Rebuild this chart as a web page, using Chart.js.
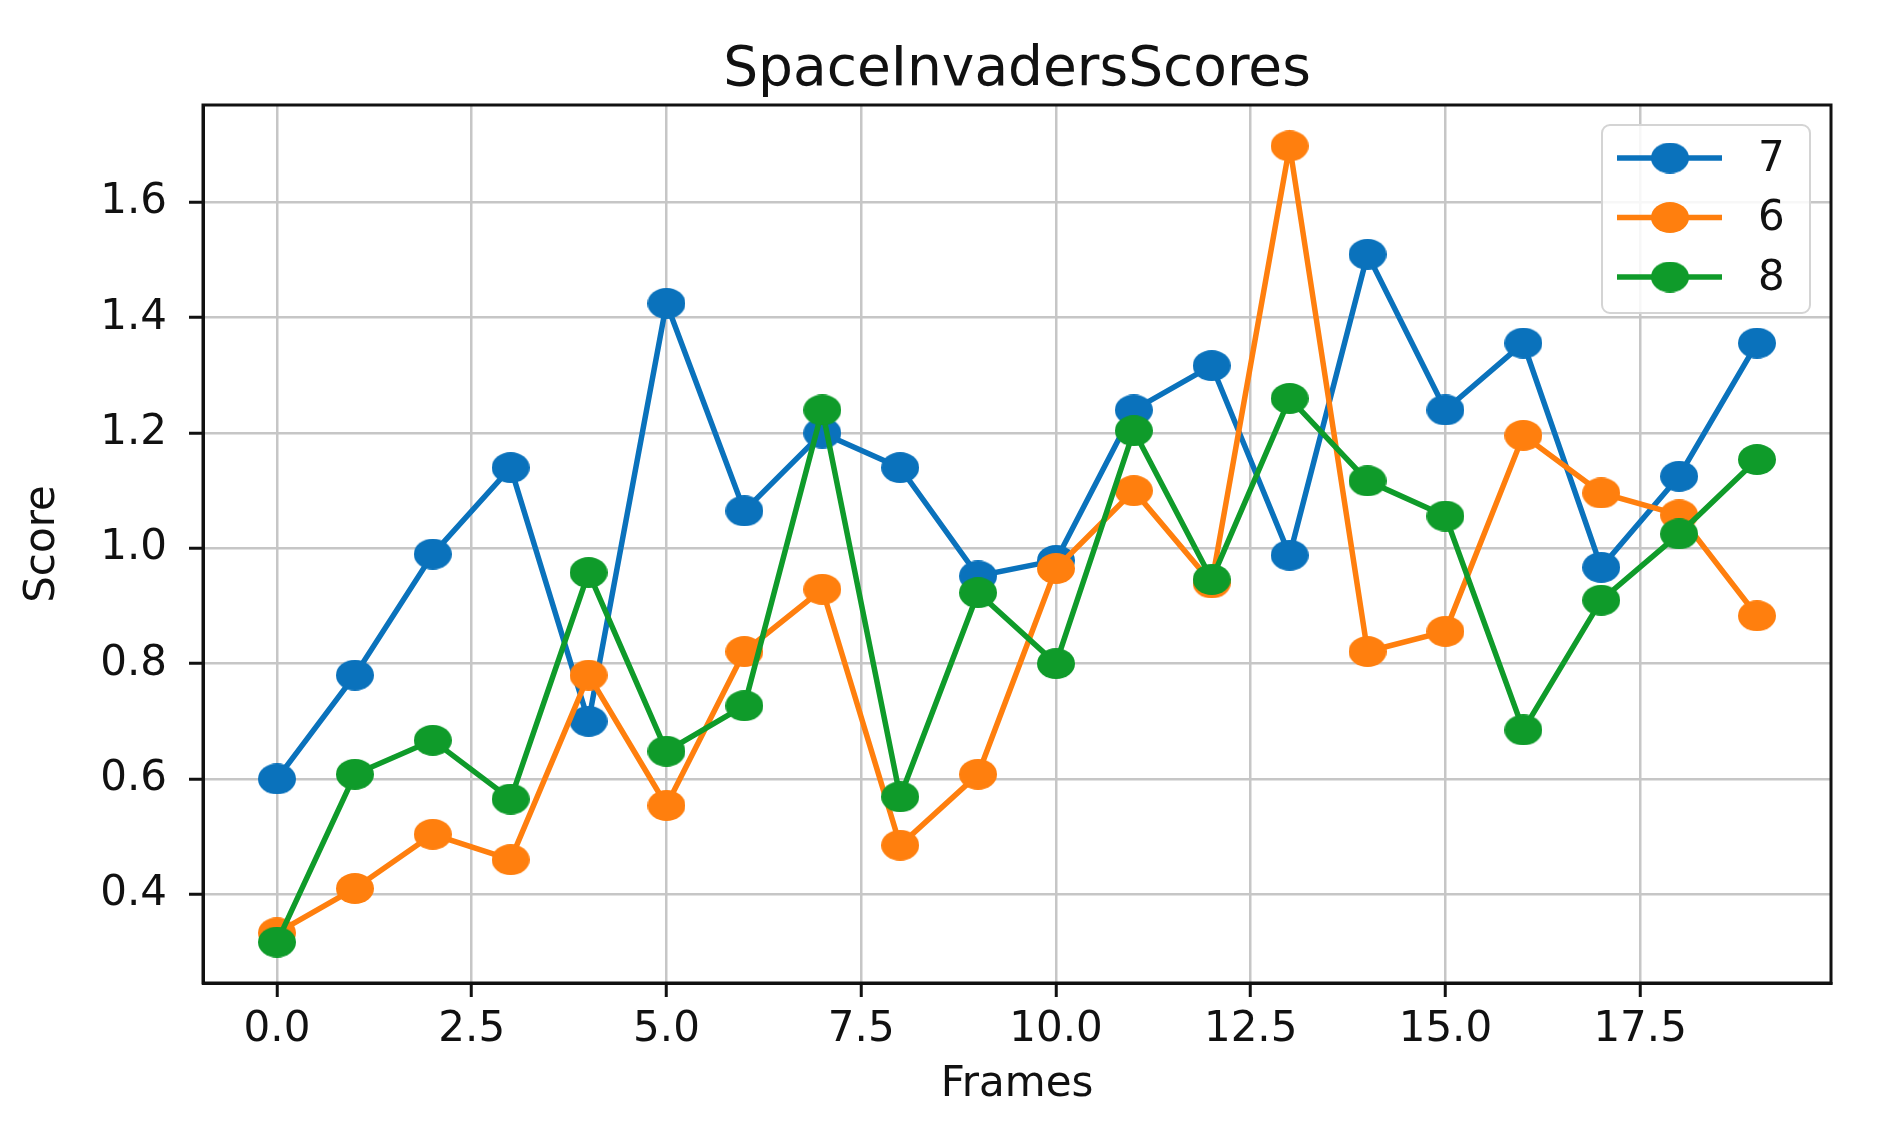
<!DOCTYPE html>
<html>
<head>
<meta charset="utf-8">
<title>SpaceInvadersScores</title>
<script src="https://cdn.jsdelivr.net/npm/chart.js@4.4.1/dist/chart.umd.min.js"></script>
<style>
  html, body { margin: 0; padding: 0; background: #fff; }
  #wrap { width: 1888px; height: 1139px; }
</style>
</head>
<body>
<div id="wrap"><canvas id="scores" width="1888" height="1139"></canvas></div>
<script>
// values
const frames = [0, 1, 2, 3, 4, 5, 6, 7, 8, 9, 10, 11, 12, 13, 14, 15, 16, 17, 18, 19];
const run7 = [0.60, 0.78, 0.99, 1.14, 0.70, 1.425, 1.065, 1.20, 1.14, 0.952, 0.979, 1.24, 1.317, 0.988, 1.51, 1.24, 1.356, 0.967, 1.125, 1.356];
const run6 = [0.333, 0.41, 0.504, 0.46, 0.78, 0.554, 0.821, 0.929, 0.485, 0.608, 0.965, 1.10, 0.94, 1.698, 0.821, 0.856, 1.196, 1.096, 1.058, 0.883];
const run8 = [0.317, 0.608, 0.667, 0.565, 0.958, 0.648, 0.727, 1.24, 0.569, 0.923, 0.80, 1.204, 0.946, 1.26, 1.117, 1.056, 0.685, 0.91, 1.025, 1.154];
const seriesNames = ['7', '6', '8'];
const seriesColors = ['#0a72bc', '#ff7f0e', '#0f9b2a'];
const xTicks = [0, 2.5, 5, 7.5, 10, 12.5, 15, 17.5];
const yTicks = [0.4, 0.6, 0.8, 1.0, 1.2, 1.4, 1.6];

const FONT = "'DejaVu Sans', 'Liberation Sans', sans-serif";

// markers in the reference are a little wider than tall
function dot(color) {
  const c = document.createElement('canvas');
  c.width = 38;
  c.height = 31;
  const g = c.getContext('2d');
  g.fillStyle = color;
  g.beginPath();
  g.ellipse(19, 15.5, 19, 15.5, 0, 0, Math.PI * 2);
  g.fill();
  return c;
}
const dots = seriesColors.map(dot);

function toPoints(ys) {
  return frames.map((f, i) => ({ x: f, y: ys[i] }));
}

const frameBox = {
  id: 'frameBox',
  afterDatasetsDraw(chart) {
    const a = chart.chartArea;
    const ctx = chart.ctx;
    ctx.save();
    ctx.strokeStyle = '#111';
    ctx.lineWidth = 3;
    ctx.strokeRect(a.left, a.top, a.right - a.left, a.bottom - a.top);
    ctx.restore();
  }
};

const lineLegend = {
  id: 'lineLegend',
  afterDraw(chart) {
    const a = chart.chartArea;
    const ctx = chart.ctx;
    const w = 208, h = 188;
    const left = a.right - 21 - w;
    const top = a.top + 20;
    ctx.save();
    ctx.beginPath();
    ctx.roundRect(left, top, w, h, 8);
    ctx.fillStyle = 'rgba(255,255,255,0.85)';
    ctx.fill();
    ctx.strokeStyle = '#d4d4d4';
    ctx.lineWidth = 2;
    ctx.stroke();
    chart.data.datasets.forEach((ds, i) => {
      const y = top + 33 + i * 59.5;
      ctx.strokeStyle = ds.borderColor;
      ctx.lineWidth = 5.5;
      ctx.beginPath();
      ctx.moveTo(left + 15, y);
      ctx.lineTo(left + 120, y);
      ctx.stroke();
      const img = dots[i];
      ctx.drawImage(img, left + 68 - img.width / 2, y - img.height / 2);
      ctx.fillStyle = '#111';
      ctx.font = '42px ' + FONT;
      ctx.textBaseline = 'middle';
      ctx.textAlign = 'left';
      ctx.fillText(ds.label, left + 156, y + 2);
    });
    ctx.restore();
  }
};

const runs = [run7, run6, run8];

new Chart(document.getElementById('scores'), {
  type: 'line',
  data: {
    datasets: runs.map((ys, i) => ({
      label: seriesNames[i],
      data: toPoints(ys),
      borderColor: seriesColors[i],
      backgroundColor: seriesColors[i],
      borderWidth: 5.5,
      pointStyle: dots[i],
      pointRadius: 15,
      tension: 0,
      fill: false,
      order: 2 - i
    }))
  },
  options: {
    responsive: false,
    animation: false,
    layout: { padding: { left: 0, right: 57, top: 0, bottom: 0 } },
    plugins: {
      legend: { display: false },
      tooltip: { enabled: false },
      title: {
        display: true,
        text: 'SpaceInvadersScores',
        fullSize: false,
        color: '#111',
        font: { family: FONT, size: 55, weight: 'normal' },
        padding: { top: 38, bottom: 1 }
      }
    },
    scales: {
      x: {
        type: 'linear',
        min: -0.95,
        max: 19.95,
        afterBuildTicks: s => { s.ticks = xTicks.map(v => ({ value: v })); },
        afterFit: s => { s.height = 156; },
        ticks: {
          color: '#111',
          font: { family: FONT, size: 42 },
          padding: 8,
          maxRotation: 0,
          autoSkip: false,
          callback: v => v.toFixed(1)
        },
        grid: { color: '#c6c6c6', lineWidth: 2.5, tickColor: '#111', tickWidth: 3, tickLength: 14 },
        border: { display: true, color: '#111', width: 3 },
        title: {
          display: true,
          text: 'Frames',
          color: '#111',
          font: { family: FONT, size: 42 },
          padding: { top: 29, bottom: 29 }
        }
      },
      y: {
        type: 'linear',
        min: 0.246,
        max: 1.769,
        afterBuildTicks: s => { s.ticks = yTicks.map(v => ({ value: v })); },
        afterFit: s => { s.width = 203; },
        ticks: {
          color: '#111',
          font: { family: FONT, size: 42 },
          padding: 22,
          autoSkip: false,
          callback: v => v.toFixed(1)
        },
        grid: { color: '#c6c6c6', lineWidth: 2.5, tickColor: '#111', tickWidth: 3, tickLength: 14 },
        border: { display: true, color: '#111', width: 3 },
        title: {
          display: true,
          text: 'Score',
          color: '#111',
          font: { family: FONT, size: 42 },
          padding: { top: 18, bottom: 18 }
        }
      }
    }
  },
  plugins: [frameBox, lineLegend]
});
</script>
</body>
</html>
